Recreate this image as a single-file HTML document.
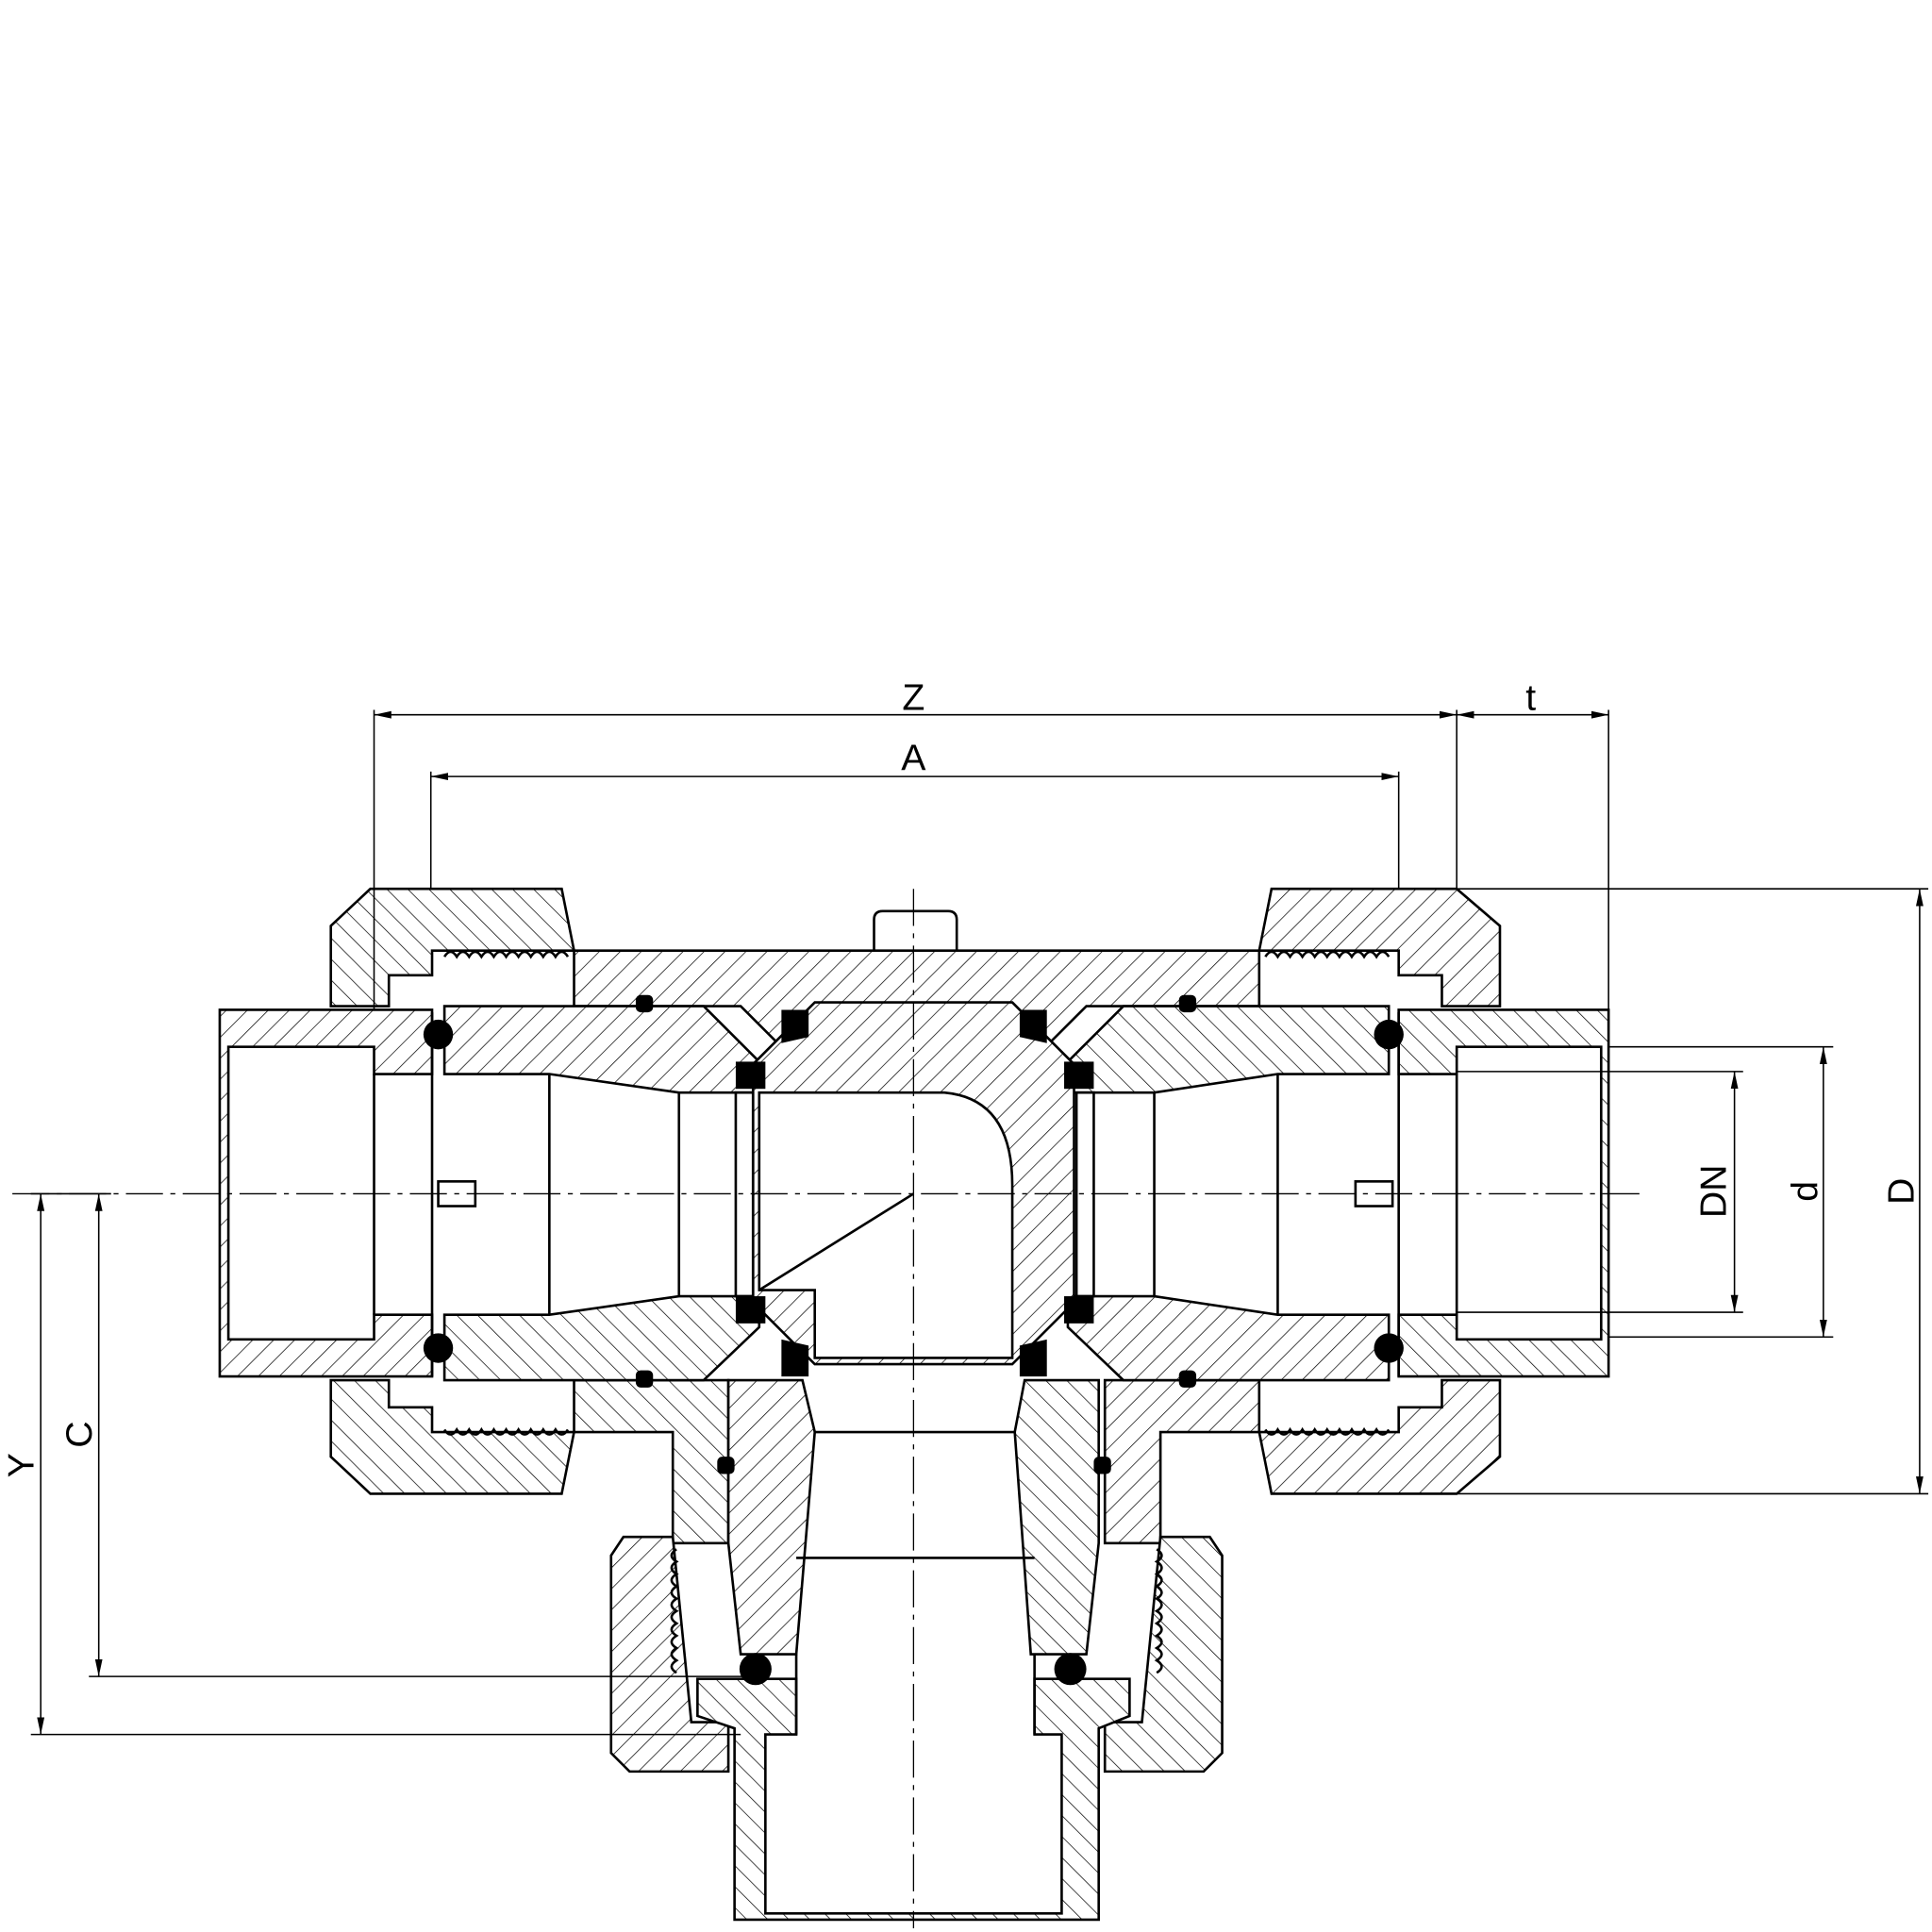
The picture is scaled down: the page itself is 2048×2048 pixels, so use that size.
<!DOCTYPE html>
<html><head><meta charset="utf-8"><style>
html,body{margin:0;padding:0;background:#fff;}
svg{display:block;}
text{font-family:"Liberation Sans",sans-serif;font-size:30px;fill:#000;}
</style></head><body>
<svg width="2048" height="2048" viewBox="0 0 1565 1565" xmlns="http://www.w3.org/2000/svg">
<defs>
<pattern id="h" width="12" height="12" patternUnits="userSpaceOnUse" patternTransform="rotate(45)">
<rect width="12" height="12" fill="#fff"/><line x1="0" y1="0" x2="0" y2="12" stroke="#000" stroke-width="1.1"/></pattern>
<pattern id="h2" width="12" height="12" patternUnits="userSpaceOnUse" patternTransform="rotate(-45)">
<rect width="12" height="12" fill="#fff"/><line x1="0" y1="0" x2="0" y2="12" stroke="#000" stroke-width="1.1"/></pattern>
<marker id="a" markerWidth="14" markerHeight="8" refX="14" refY="4" orient="auto-start-reverse" markerUnits="userSpaceOnUse"><path d="M0,1 L14,4 L0,7 Z" fill="#000"/></marker>
</defs>
<g stroke="#000" stroke-width="2" fill="url(#h)">
<!-- main body top wall -->
<path d="M465,770 L1020,770 L1020,815 L880,815 L850,845 L630,845 L600,815 L465,815 Z"/>
<!-- body lower left/right walls -->
<path d="M465,1118 L590,1118 L590,1250 L545,1250 L545,1160 L465,1160 Z" fill="url(#h2)"/>
<path d="M1020,1118 L895,1118 L895,1250 L940,1250 L940,1160 L1020,1160 Z"/>
<!-- left socket -->
<path d="M178,818 L350,818 L350,870 L303,870 L303,848 L185,848 L185,1085 L303,1085 L303,1065 L350,1065 L350,1115 L178,1115 Z"/>
<path d="M1303,818 L1133,818 L1133,870 L1180,870 L1180,848 L1297,848 L1297,1085 L1180,1085 L1180,1065 L1133,1065 L1133,1115 L1303,1115 Z" fill="url(#h2)"/>
<!-- nuts -->
<path d="M300,720 L455,720 L465,770 L350,770 L350,790 L315,790 L315,815 L268,815 L268,750 Z" fill="url(#h2)"/>
<path d="M300,1210 L455,1210 L465,1160 L350,1160 L350,1140 L315,1140 L315,1118 L268,1118 L268,1180 Z" fill="url(#h2)"/>
<path d="M1180,720 L1030,720 L1020,770 L1133,770 L1133,790 L1168,790 L1168,815 L1215,815 L1215,750 Z"/>
<path d="M1180,1210 L1030,1210 L1020,1160 L1133,1160 L1133,1140 L1168,1140 L1168,1118 L1215,1118 L1215,1180 Z"/>
<!-- inner sleeves -->
<path d="M360,815 L570,815 L615,860 L615,885 L550,885 L445,870 L360,870 Z"/>
<path d="M360,1118 L570,1118 L615,1075 L615,1050 L550,1050 L445,1065 L360,1065 Z" fill="url(#h2)"/>
<path d="M1125,815 L910,815 L865,860 L865,885 L935,885 L1035,870 L1125,870 Z" fill="url(#h2)"/>
<path d="M1125,1118 L910,1118 L865,1075 L865,1050 L935,1050 L1035,1065 L1125,1065 Z"/>
<!-- ball -->
<path d="M660,812 L820,812 L870,862 L870,1055 L820,1105 L660,1105 L610,1055 L610,862 Z"/>
<path d="M615,885 L765,885 Q820,890 820,960 L820,1100 L660,1100 L660,1045 L615,1045 Z" fill="#fff"/>
<path d="M615,1045 L740,967" fill="none"/>
<!-- bottom stem inner -->
<path d="M590,1118 L650,1118 L660,1160 L645,1340 L600,1340 L590,1250 Z"/>
<path d="M890,1118 L830,1118 L822,1160 L835,1340 L880,1340 L890,1250 Z" fill="url(#h2)"/>
<!-- bottom nuts -->
<path d="M505,1245 L545,1245 L560,1395 L590,1395 L590,1435 L510,1435 L495,1420 L495,1260 Z"/>
<path d="M980,1245 L940,1245 L925,1395 L895,1395 L895,1435 L975,1435 L990,1420 L990,1260 Z" fill="url(#h2)"/>
<!-- bottom socket -->
<path d="M565,1360 L645,1360 L645,1405 L620,1405 L620,1550 L860,1550 L860,1405 L838,1405 L838,1360 L915,1360 L915,1390 L890,1400 L890,1555 L595,1555 L595,1400 L565,1390 Z" fill="url(#h2)"/>
</g>
<g stroke="#000" stroke-width="2" fill="none">
<line x1="303" y1="870" x2="303" y2="1065"/><line x1="1180" y1="870" x2="1180" y2="1065"/>
<line x1="445" y1="870" x2="445" y2="1065"/><line x1="550" y1="885" x2="550" y2="1050"/>
<line x1="1035" y1="870" x2="1035" y2="1065"/><line x1="935" y1="885" x2="935" y2="1050"/>
<rect x="596" y="885" width="14" height="165"/><rect x="872" y="885" width="14" height="165"/>
<line x1="645" y1="1340" x2="645" y2="1405"/><line x1="838" y1="1340" x2="838" y2="1405"/>
<line x1="645" y1="1262" x2="838" y2="1262"/><line x1="660" y1="1160" x2="822" y2="1160"/>
<path d="M708,770 L708,745 Q708,738 715,738 L768,738 Q775,738 775,745 L775,770"/>
<rect x="355" y="957" width="30" height="20"/><rect x="1098" y="957" width="30" height="20"/>
<line x1="350" y1="820" x2="350" y2="1115"/><line x1="1133" y1="820" x2="1133" y2="1115"/>
</g>
<!-- seals -->
<g fill="#000">
<circle cx="355" cy="838" r="12"/><circle cx="355" cy="1092" r="12"/>
<circle cx="1125" cy="838" r="12"/><circle cx="1125" cy="1092" r="12"/>
<circle cx="612" cy="1352" r="13"/><circle cx="867" cy="1352" r="13"/>
<rect x="515" y="806" width="14" height="14" rx="4"/><rect x="515" y="1110" width="14" height="14" rx="4"/>
<rect x="955" y="806" width="14" height="14" rx="4"/><rect x="955" y="1110" width="14" height="14" rx="4"/>
<rect x="581" y="1180" width="14" height="14" rx="4"/><rect x="886" y="1180" width="14" height="14" rx="4"/>
<path d="M633,818 L655,818 L655,840 L633,845Z"/><path d="M848,818 L826,818 L826,840 L848,845Z"/>
<path d="M633,1115 L655,1115 L655,1090 L633,1085Z"/><path d="M848,1115 L826,1115 L826,1090 L848,1085Z"/>
<rect x="596" y="860" width="24" height="22"/><rect x="862" y="860" width="24" height="22"/>
<rect x="596" y="1050" width="24" height="22"/><rect x="862" y="1050" width="24" height="22"/>
</g>
<!-- threads -->
<g stroke="#000" stroke-width="2" fill="none">
<path d="M360,775 q5,-8 10,0 q5,-8 10,0 q5,-8 10,0 q5,-8 10,0 q5,-8 10,0 q5,-8 10,0 q5,-8 10,0 q5,-8 10,0 q5,-8 10,0 q5,-8 10,0"/>
<path d="M360,1158 q5,8 10,0 q5,8 10,0 q5,8 10,0 q5,8 10,0 q5,8 10,0 q5,8 10,0 q5,8 10,0 q5,8 10,0 q5,8 10,0 q5,8 10,0"/>
<path d="M1025,775 q5,-8 10,0 q5,-8 10,0 q5,-8 10,0 q5,-8 10,0 q5,-8 10,0 q5,-8 10,0 q5,-8 10,0 q5,-8 10,0 q5,-8 10,0 q5,-8 10,0"/>
<path d="M1025,1158 q5,8 10,0 q5,8 10,0 q5,8 10,0 q5,8 10,0 q5,8 10,0 q5,8 10,0 q5,8 10,0 q5,8 10,0 q5,8 10,0 q5,8 10,0"/>
<path d="M548,1255 q-8,5 0,10 q-8,5 0,10 q-8,5 0,10 q-8,5 0,10 q-8,5 0,10 q-8,5 0,10 q-8,5 0,10 q-8,5 0,10 q-8,5 0,10 q-8,5 0,10"/>
<path d="M937,1255 q8,5 0,10 q8,5 0,10 q8,5 0,10 q8,5 0,10 q8,5 0,10 q8,5 0,10 q8,5 0,10 q8,5 0,10 q8,5 0,10 q8,5 0,10"/>
</g>
<!-- centerlines -->
<g stroke="#000" stroke-width="1" stroke-dasharray="30,6,4,6" fill="none">
<line x1="10" y1="967" x2="1330" y2="967"/><line x1="740" y1="720" x2="740" y2="1562"/>
</g>
<!-- dimensions -->
<g stroke="#000" stroke-width="1.2" fill="none">
<line x1="303" y1="575" x2="303" y2="818"/><line x1="349" y1="625" x2="349" y2="720"/>
<line x1="1133" y1="625" x2="1133" y2="720"/><line x1="1180" y1="575" x2="1180" y2="720"/>
<line x1="1303" y1="575" x2="1303" y2="818"/>
<line x1="303" y1="579" x2="1180" y2="579" marker-start="url(#a)" marker-end="url(#a)"/>
<line x1="1180" y1="579" x2="1303" y2="579" marker-start="url(#a)" marker-end="url(#a)"/>
<line x1="349" y1="629" x2="1133" y2="629" marker-start="url(#a)" marker-end="url(#a)"/>
<line x1="1180" y1="720" x2="1562" y2="720"/><line x1="1180" y1="1210" x2="1562" y2="1210"/>
<line x1="1303" y1="848" x2="1485" y2="848"/><line x1="1303" y1="1083" x2="1485" y2="1083"/>
<line x1="1180" y1="868" x2="1412" y2="868"/><line x1="1180" y1="1063" x2="1412" y2="1063"/>
<line x1="1555" y1="720" x2="1555" y2="1210" marker-start="url(#a)" marker-end="url(#a)"/>
<line x1="1477" y1="848" x2="1477" y2="1083" marker-start="url(#a)" marker-end="url(#a)"/>
<line x1="1405" y1="868" x2="1405" y2="1063" marker-start="url(#a)" marker-end="url(#a)"/>
<line x1="25" y1="967" x2="90" y2="967"/>
<line x1="72" y1="1358" x2="612" y2="1358"/><line x1="25" y1="1405" x2="600" y2="1405"/>
<line x1="33" y1="967" x2="33" y2="1405" marker-start="url(#a)" marker-end="url(#a)"/>
<line x1="80" y1="967" x2="80" y2="1358" marker-start="url(#a)" marker-end="url(#a)"/>
</g>
<text x="740" y="575" text-anchor="middle">Z</text>
<text x="1240" y="575" text-anchor="middle">t</text>
<text x="740" y="624" text-anchor="middle">A</text>
<text transform="translate(1550,965) rotate(-90)" text-anchor="middle">D</text>
<text transform="translate(1472,965) rotate(-90)" text-anchor="middle">d</text>
<text transform="translate(1398,965) rotate(-90)" text-anchor="middle">DN</text>
<text transform="translate(27,1187) rotate(-90)" text-anchor="middle">Y</text>
<text transform="translate(74,1162) rotate(-90)" text-anchor="middle">C</text>
</svg>
</body></html>
